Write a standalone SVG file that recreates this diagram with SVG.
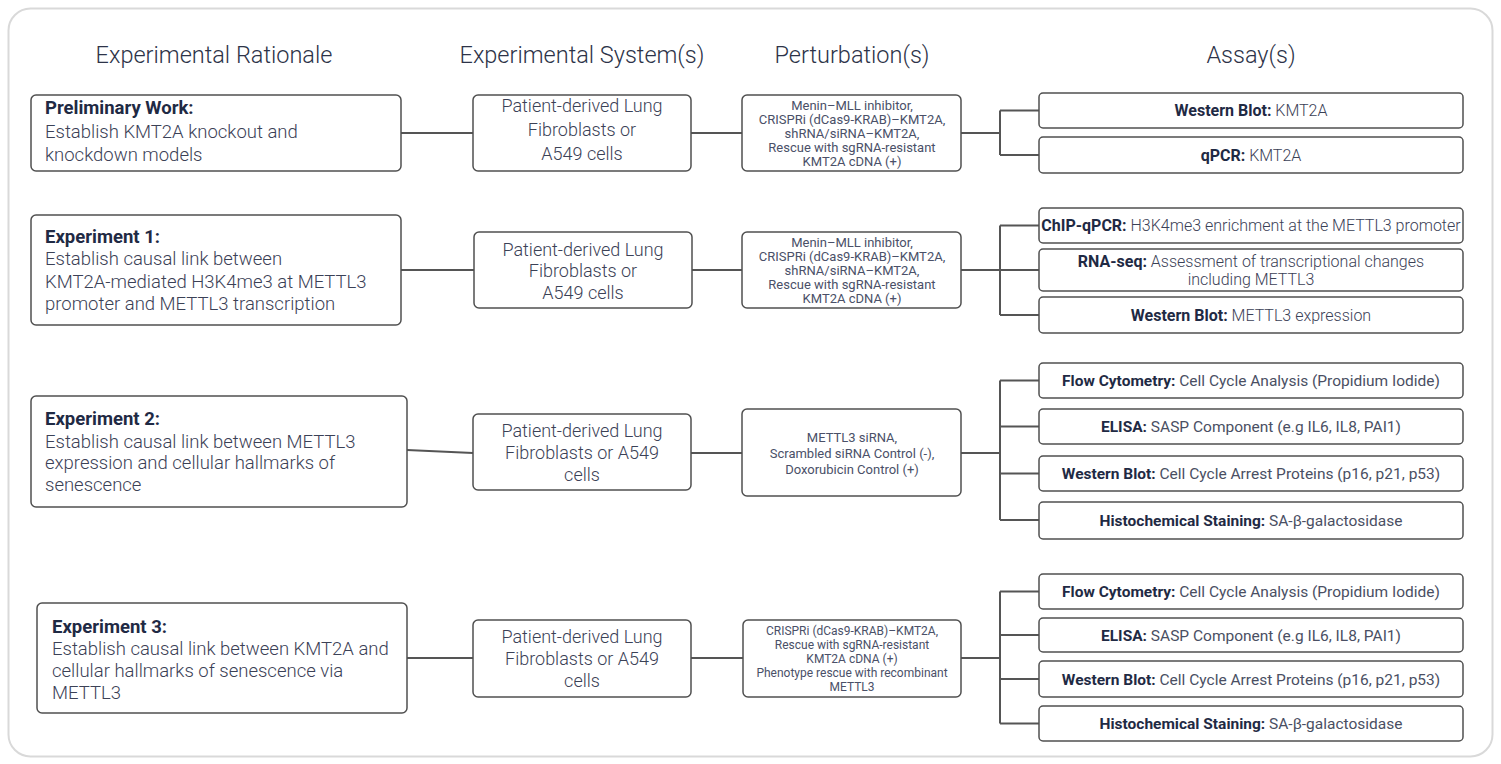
<svg xmlns="http://www.w3.org/2000/svg" width="1501" height="764" viewBox="0 0 1501 764">
<style>
.frame{fill:#fff;stroke:#d9d9d9;stroke-width:2}
.box{fill:#fff;stroke:#505050;stroke-width:1.5}
.hdr{font-family:Roboto,"Liberation Sans",sans-serif;font-weight:300;font-size:23.5px;fill:#2d3348;text-anchor:middle}
.lt{font-family:Roboto,"Liberation Sans",sans-serif;font-weight:300;font-size:18.5px;fill:#3b4156}
.mid{font-family:Roboto,"Liberation Sans",sans-serif;font-weight:300;font-size:18px;fill:#3b4156;text-anchor:middle}
.pt{font-family:Roboto,"Liberation Sans",sans-serif;font-weight:400;font-size:13px;fill:#4a5068;text-anchor:middle}
.pt3{font-family:Roboto,"Liberation Sans",sans-serif;font-weight:400;font-size:13px;fill:#4a5068;text-anchor:middle}
.pt4{font-family:Roboto,"Liberation Sans",sans-serif;font-weight:400;font-size:12px;fill:#4a5068;text-anchor:middle}
.as{font-family:Roboto,"Liberation Sans",sans-serif;font-weight:300;font-size:16px;fill:#3b4156;text-anchor:middle}
.as2{font-family:Roboto,"Liberation Sans",sans-serif;font-weight:400;font-size:15.5px;fill:#4a4f63;text-anchor:middle}
.b{font-weight:700;fill:#1f2a44}
.con{fill:none;stroke:#555;stroke-width:2}
</style>
<rect class="frame" x="8.5" y="8.5" width="1484" height="748" rx="22"/>
<g id="headers">
<text class="hdr" x="214" y="63">Experimental Rationale</text>
<text class="hdr" x="582" y="63">Experimental System(s)</text>
<text class="hdr" x="852" y="63">Perturbation(s)</text>
<text class="hdr" x="1251" y="63">Assay(s)</text>
</g>
<g id="connectors">
<path class="con" d="M401 133H473M691 133H742M961 133H1000M1000 110.5V155M1000 110.5H1039M1000 155H1039"/>
<path class="con" d="M401 270H474M692 270H742M961 270H1000M1000 225.5V315M1000 225.5H1039M1000 270H1039M1000 315H1039"/>
<path class="con" d="M407 450L473 453M691 453H742M961 453H1000M1000 380.5V520M1000 380.5H1039M1000 426.5H1039M1000 473.5H1039M1000 520H1039"/>
<path class="con" d="M407 658H473M691 658H743M961 658H1000M1000 591.5V723.5M1000 591.5H1039M1000 635H1039M1000 679H1039M1000 723.5H1039"/>
</g>
<g id="prelim">
<rect class="box" x="31" y="95" width="370" height="76" rx="5"/>
<text class="lt"><tspan class="b" x="45" y="114">Preliminary Work:</tspan><tspan x="45" y="138">Establish KMT2A knockout and</tspan><tspan x="45" y="161">knockdown models</tspan></text>
</g>
<g id="sys1">
<rect class="box" x="473" y="95" width="218" height="76" rx="5"/>
<text class="mid"><tspan x="582" y="112">Patient-derived Lung</tspan><tspan x="582" y="136">Fibroblasts or</tspan><tspan x="582" y="160">A549 cells</tspan></text>
</g>
<g id="pert1">
<rect class="box" x="742" y="95" width="219" height="76" rx="5"/>
<text class="pt"><tspan x="852" y="109.5">Menin–MLL inhibitor,</tspan><tspan x="852" y="123.5">CRISPRi (dCas9-KRAB)–KMT2A,</tspan><tspan x="852" y="137.5">shRNA/siRNA–KMT2A,</tspan><tspan x="852" y="151.5">Rescue with sgRNA-resistant</tspan><tspan x="852" y="165.5">KMT2A cDNA (+)</tspan></text>
</g>
<g id="a1a">
<rect class="box" x="1039" y="93" width="424" height="35" rx="4"/>
<text class="as" x="1251" y="116"><tspan class="b">Western Blot:</tspan> KMT2A</text>
</g>
<g id="a1b">
<rect class="box" x="1039" y="137" width="424" height="36" rx="4"/>
<text class="as" x="1251" y="160.5"><tspan class="b">qPCR:</tspan> KMT2A</text>
</g>
<g id="exp1">
<rect class="box" x="31" y="215" width="370" height="110" rx="5"/>
<text class="lt"><tspan class="b" x="45" y="243">Experiment 1:</tspan><tspan x="45" y="265">Establish causal link between</tspan><tspan x="45" y="288">KMT2A-mediated H3K4me3 at METTL3</tspan><tspan x="45" y="310">promoter and METTL3 transcription</tspan></text>
</g>
<g id="sys2">
<rect class="box" x="474" y="232" width="218" height="76" rx="5"/>
<text class="mid"><tspan x="583" y="256">Patient-derived Lung</tspan><tspan x="583" y="277">Fibroblasts or</tspan><tspan x="583" y="299">A549 cells</tspan></text>
</g>
<g id="pert2">
<rect class="box" x="742" y="232" width="219" height="76" rx="5"/>
<text class="pt"><tspan x="852" y="246.5">Menin–MLL inhibitor,</tspan><tspan x="852" y="260.5">CRISPRi (dCas9-KRAB)–KMT2A,</tspan><tspan x="852" y="274.5">shRNA/siRNA–KMT2A,</tspan><tspan x="852" y="288.5">Rescue with sgRNA-resistant</tspan><tspan x="852" y="302.5">KMT2A cDNA (+)</tspan></text>
</g>
<g id="a2a">
<rect class="box" x="1039" y="208" width="424" height="35" rx="4"/>
<text class="as" x="1251" y="231"><tspan class="b">ChIP-qPCR:</tspan> H3K4me3 enrichment at the METTL3 promoter</text>
</g>
<g id="a2b">
<rect class="box" x="1039" y="249" width="424" height="42" rx="4"/>
<text class="as"><tspan x="1251" y="266.5"><tspan class="b">RNA-seq:</tspan> Assessment of transcriptional changes</tspan><tspan x="1251" y="285">including METTL3</tspan></text>
</g>
<g id="a2c">
<rect class="box" x="1039" y="297" width="424" height="36" rx="4"/>
<text class="as" x="1251" y="320.5"><tspan class="b">Western Blot:</tspan> METTL3 expression</text>
</g>
<g id="exp2">
<rect class="box" x="31" y="396" width="376" height="111" rx="5"/>
<text class="lt"><tspan class="b" x="45" y="425">Experiment 2:</tspan><tspan x="45" y="448">Establish causal link between METTL3</tspan><tspan x="45" y="469">expression and cellular hallmarks of</tspan><tspan x="45" y="491">senescence</tspan></text>
</g>
<g id="sys3">
<rect class="box" x="473" y="414" width="218" height="76" rx="5"/>
<text class="mid"><tspan x="582" y="437">Patient-derived Lung</tspan><tspan x="582" y="459">Fibroblasts or A549</tspan><tspan x="582" y="481">cells</tspan></text>
</g>
<g id="pert3">
<rect class="box" x="742" y="409" width="219" height="87" rx="5"/>
<text class="pt3"><tspan x="852" y="441.5">METTL3 siRNA,</tspan><tspan x="852" y="457.5">Scrambled siRNA Control (-),</tspan><tspan x="852" y="473.5">Doxorubicin Control (+)</tspan></text>
</g>
<g id="a3a">
<rect class="box" x="1039" y="363" width="424" height="35" rx="4"/>
<text class="as2" x="1251" y="386"><tspan class="b">Flow Cytometry:</tspan> Cell Cycle Analysis (Propidium Iodide)</text>
</g>
<g id="a3b">
<rect class="box" x="1039" y="409" width="424" height="35" rx="4"/>
<text class="as2" x="1251" y="432"><tspan class="b">ELISA:</tspan> SASP Component (e.g IL6, IL8, PAI1)</text>
</g>
<g id="a3c">
<rect class="box" x="1039" y="456" width="424" height="35" rx="4"/>
<text class="as2" x="1251" y="479"><tspan class="b">Western Blot:</tspan> Cell Cycle Arrest Proteins (p16, p21, p53)</text>
</g>
<g id="a3d">
<rect class="box" x="1039" y="502" width="424" height="37" rx="4"/>
<text class="as2" x="1251" y="525.5"><tspan class="b">Histochemical Staining:</tspan> SA-β-galactosidase</text>
</g>
<g id="exp3">
<rect class="box" x="37" y="603" width="370" height="110" rx="5"/>
<text class="lt"><tspan class="b" x="52" y="633">Experiment 3:</tspan><tspan x="52" y="655">Establish causal link between KMT2A and</tspan><tspan x="52" y="677">cellular hallmarks of senescence via</tspan><tspan x="52" y="699">METTL3</tspan></text>
</g>
<g id="sys4">
<rect class="box" x="473" y="620" width="218" height="77" rx="5"/>
<text class="mid"><tspan x="582" y="643">Patient-derived Lung</tspan><tspan x="582" y="665">Fibroblasts or A549</tspan><tspan x="582" y="687">cells</tspan></text>
</g>
<g id="pert4">
<rect class="box" x="743" y="620" width="218" height="77" rx="5"/>
<text class="pt4"><tspan x="852" y="635">CRISPRi (dCas9-KRAB)–KMT2A,</tspan><tspan x="852" y="649">Rescue with sgRNA-resistant</tspan><tspan x="852" y="663">KMT2A cDNA (+)</tspan><tspan x="852" y="677">Phenotype rescue with recombinant</tspan><tspan x="852" y="691">METTL3</tspan></text>
</g>
<g id="a4a">
<rect class="box" x="1039" y="574" width="424" height="35" rx="4"/>
<text class="as2" x="1251" y="597"><tspan class="b">Flow Cytometry:</tspan> Cell Cycle Analysis (Propidium Iodide)</text>
</g>
<g id="a4b">
<rect class="box" x="1039" y="618" width="424" height="34" rx="4"/>
<text class="as2" x="1251" y="640.5"><tspan class="b">ELISA:</tspan> SASP Component (e.g IL6, IL8, PAI1)</text>
</g>
<g id="a4c">
<rect class="box" x="1039" y="661" width="424" height="36" rx="4"/>
<text class="as2" x="1251" y="684.5"><tspan class="b">Western Blot:</tspan> Cell Cycle Arrest Proteins (p16, p21, p53)</text>
</g>
<g id="a4d">
<rect class="box" x="1039" y="706" width="424" height="35" rx="4"/>
<text class="as2" x="1251" y="729"><tspan class="b">Histochemical Staining:</tspan> SA-β-galactosidase</text>
</g>
</svg>
